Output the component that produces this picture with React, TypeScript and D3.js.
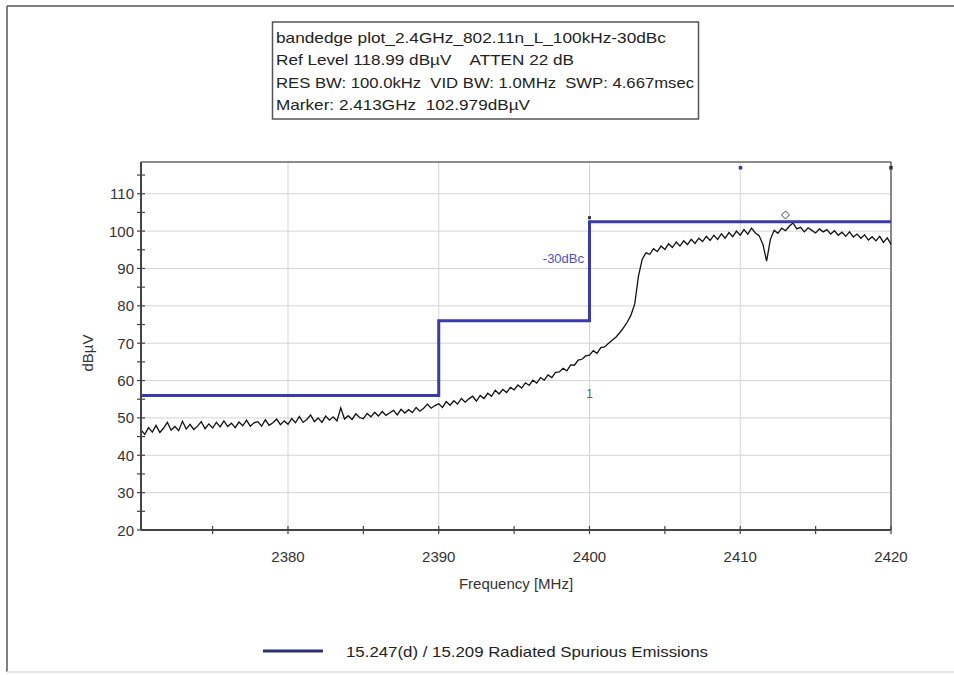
import React from "react";
import * as d3 from "d3";

const freqStart = 2370.25;
const freqStep = 0.25;
const traceValues: number[] = [
  46.8, 45.6, 47.4,
  46.2, 48.0, 46.1, 47.3,
  48.8, 46.7, 47.7, 46.6,
  49.1, 47.0, 48.3, 46.9,
  47.8, 49.0, 47.1, 48.4,
  47.3, 48.8, 47.6, 49.2,
  47.7, 48.6, 47.4, 48.9,
  47.9, 49.4, 47.8, 48.7,
  49.0, 47.8, 49.5, 48.0,
  48.7, 49.7, 48.2, 49.2,
  48.3, 49.8, 48.7, 50.4,
  48.8, 49.6, 50.8, 49.0,
  50.0, 48.8, 50.5, 49.4,
  50.3, 49.2, 52.7, 49.7,
  50.6, 49.6, 51.1, 50.1,
  49.8, 51.2, 50.3, 51.5,
  50.5, 51.7, 50.7, 51.4,
  52.0, 50.8, 52.3, 51.3,
  52.2, 51.4, 52.8, 51.8,
  52.6, 53.7, 52.6, 53.3,
  53.8, 52.8, 54.4, 53.4,
  54.6, 53.7, 55.2, 54.2,
  55.1, 55.8, 54.5, 56.0,
  55.2, 56.6, 55.8, 57.4,
  56.4, 57.6, 56.8, 58.2,
  57.5, 58.8, 58.0, 59.4,
  58.7, 60.1, 59.3, 60.8,
  60.1, 61.5, 60.8, 62.2,
  62.3, 63.3, 62.6, 64.2,
  64.1, 65.5, 65.7, 66.6,
  66.8, 68.0, 67.3, 68.8,
  69.0, 69.9, 70.8, 71.6,
  72.8, 74.1, 75.6, 77.5,
  80.5, 88.0, 92.5, 94.2,
  93.8, 95.3, 94.5, 96.0,
  95.1, 96.6, 95.6, 97.1,
  96.0, 97.4, 96.4, 97.8,
  96.7, 98.1, 97.2, 98.6,
  97.5, 98.9, 97.8, 99.3,
  98.1, 99.6, 98.5, 100.0,
  98.9, 100.4, 99.2, 100.8,
  99.5, 98.8, 96.5, 92.0,
  97.8, 100.2, 99.4, 100.8,
  100.1, 101.3, 102.2, 100.6,
  101.0, 99.8, 100.9, 100.2,
  99.5, 100.6, 99.8, 100.4,
  99.2, 100.1, 98.9, 99.7,
  98.6, 99.8, 98.4, 99.2,
  98.1, 99.0, 97.6, 98.5,
  97.4, 98.6, 97.0, 98.2,
  96.5,
];

const limitFreqs = [2370.25, 2390, 2390, 2400, 2400, 2420];
const limitLevels = [56, 56, 76, 76, 102.5, 102.5];

const xMajorTicks = [2380, 2390, 2400, 2410, 2420];
const xMinorTicks = [2375, 2380, 2385, 2390, 2395, 2400, 2405, 2410, 2415, 2420];
const yMajorTicks = [20, 30, 40, 50, 60, 70, 80, 90, 100, 110];
const yMinorTicks = [25, 35, 45, 55, 65, 75, 85, 95, 105, 115];

const titleLines = [
  "bandedge plot_2.4GHz_802.11n_L_100kHz-30dBc",
  "Ref Level 118.99 dBµV    ATTEN 22 dB",
  "RES BW: 100.0kHz  VID BW: 1.0MHz  SWP: 4.667msec",
  "Marker: 2.413GHz  102.979dBµV",
];
const titleWidths = [390, 298, 418, 254];

const markerFreq = 2413;
const markerLevel = 102.979;
const legendLabel = "15.247(d) / 15.209 Radiated Spurious Emissions";

const FONT = "'Liberation Sans', Arial, sans-serif";

export default function App() {
  const left = 141, right = 891, top = 162, bottom = 530;
  const x = d3.scaleLinear().domain([2370.25, 2420]).range([left, right]);
  const y = d3.scaleLinear().domain([20, 118.5]).range([bottom, top]);

  const traceData = traceValues.map((v, i) => [freqStart + i * freqStep, v] as [number, number]);
  const line = d3.line<[number, number]>().x((d) => x(d[0])).y((d) => y(d[1]));
  const limitData = limitFreqs.map((f, i) => [f, limitLevels[i]] as [number, number]);

  const axisColor = "#444";
  const gridColor = "#d4d4d4";
  const limitColor = "#3a3aae";

  return (
    <svg width={954} height={675} style={{ position: "absolute", left: 0, top: 0, background: "#fff" }} fontFamily={FONT}>
      <rect x={0} y={0} width={954} height={675} fill="#fff" />
      {/* outer frame */}
      <line x1={7} y1={6} x2={954} y2={6} stroke="#555" strokeWidth={1.5} />
      <line x1={7} y1={6} x2={7} y2={672} stroke="#555" strokeWidth={1.5} />
      <line x1={7} y1={672} x2={954} y2={672} stroke="#e4e4e4" strokeWidth={2} />

      {/* title box */}
      <rect x={272.5} y={22} width={426} height={97} fill="#fff" stroke="#555" strokeWidth={1.5} />
      {titleLines.map((t, i) => (
        <text key={i} x={276} y={43 + i * 22.3} fontSize={15} fill="#222" textLength={titleWidths[i]} lengthAdjust="spacingAndGlyphs" style={{ whiteSpace: "pre" }}>
          {t}
        </text>
      ))}

      {/* grid */}
      {xMajorTicks.map((t) => (
        <line key={"gx" + t} x1={x(t)} x2={x(t)} y1={top} y2={bottom} stroke={gridColor} strokeWidth={1} />
      ))}
      {yMajorTicks.map((t) => (
        <line key={"gy" + t} x1={left} x2={right} y1={y(t)} y2={y(t)} stroke={gridColor} strokeWidth={1} />
      ))}

      {/* frame top/right */}
      <line x1={left} x2={right} y1={top} y2={top} stroke="#666" strokeWidth={1.5} />
      <line x1={right} x2={right} y1={top} y2={bottom} stroke="#666" strokeWidth={1.5} />

      {/* trace */}
      <path d={line(traceData) || ""} fill="none" stroke="#111" strokeWidth={1.3} />

      {/* limit line */}
      <path d={line(limitData) || ""} fill="none" stroke={limitColor} strokeWidth={3} />

      {/* markers */}
      <rect x={x(2410) - 1.5} y={166} width={3.5} height={3.5} fill="#3a3aae" />
      <rect x={x(2420) - 1.8} y={166} width={3.5} height={3.5} fill="#333" />
      <rect x={x(2400) - 1.5} y={y(103.6) - 1.5} width={3} height={3} fill="#333" />
      <path
        d={`M${x(markerFreq)},${y(markerLevel) - 9} l4,4 l-4,4 l-4,-4 z`}
        fill="none"
        stroke="#444"
        strokeWidth={1}
      />
      <text x={584} y={263} fontSize={13} fill="#5050b8" textAnchor="end">-30dBc</text>
      <text x={x(2400)} y={398} fontSize={12} fill="#666" textAnchor="middle">1</text>

      {/* axes */}
      <line x1={left} x2={left} y1={top} y2={bottom} stroke={axisColor} strokeWidth={2} />
      <line x1={left} x2={right} y1={bottom} y2={bottom} stroke={axisColor} strokeWidth={2} />
      {yMajorTicks.concat(yMinorTicks).map((t) => (
        <line key={"ty" + t} x1={left - 4} x2={left + 4} y1={y(t)} y2={y(t)} stroke={axisColor} strokeWidth={1.2} />
      ))}
      {xMinorTicks.map((t) => (
        <line key={"tx" + t} x1={x(t)} x2={x(t)} y1={bottom - 4} y2={bottom + 4} stroke={axisColor} strokeWidth={1.2} />
      ))}
      {yMajorTicks.map((t) => (
        <text key={"ly" + t} x={left - 7} y={y(t) + 5.5} fontSize={15} fill="#333" textAnchor="end">
          {t}
        </text>
      ))}
      {xMajorTicks.map((t) => (
        <text key={"lx" + t} x={x(t)} y={562} fontSize={15} fill="#333" textAnchor="middle">
          {t}
        </text>
      ))}
      <text x={516} y={589} fontSize={15} fill="#333" textAnchor="middle">Frequency [MHz]</text>
      <text transform="translate(93,353) rotate(-90)" fontSize={15} fill="#333" textAnchor="middle">dBµV</text>

      {/* legend */}
      <line x1={263} x2={323} y1={651} y2={651} stroke="#2e2e72" strokeWidth={3} />
      <text x={346} y={657} fontSize={15} fill="#222" textLength={362} lengthAdjust="spacingAndGlyphs">
        {legendLabel}
      </text>
    </svg>
  );
}
